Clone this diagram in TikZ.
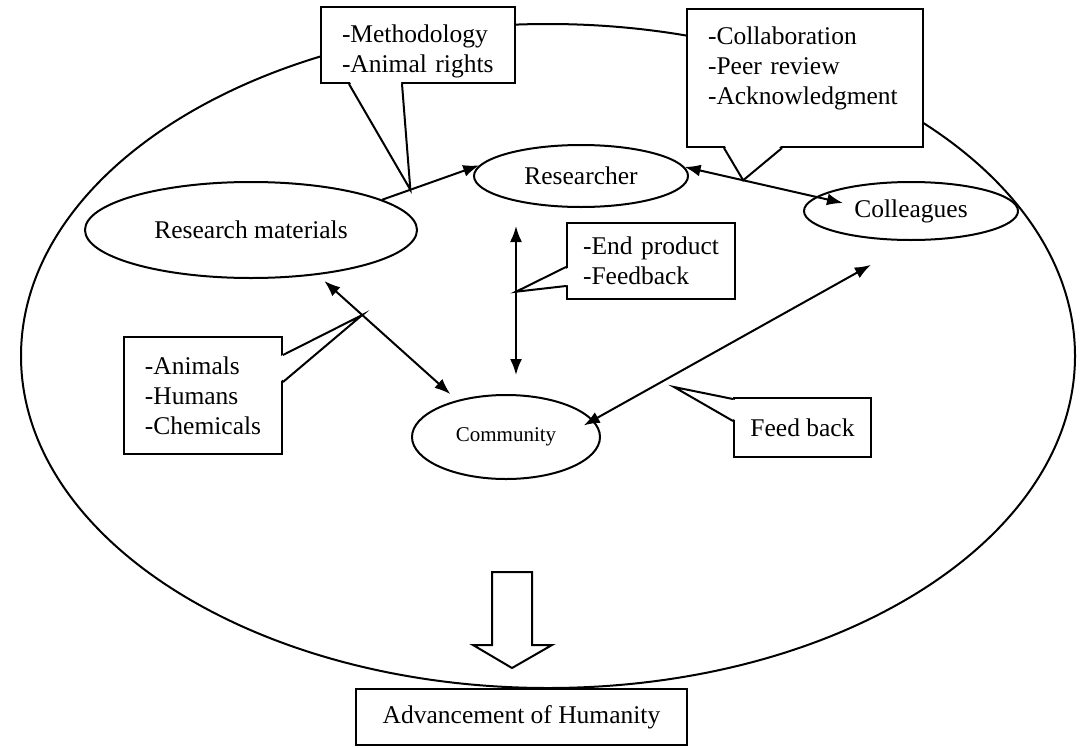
\documentclass[tikz,border=0pt]{standalone}
\usepackage{fontspec}
\setmainfont{Liberation Serif}
\usetikzlibrary{positioning,arrows.meta,shapes.geometric}
\tikzset{
  blob/.style={draw, ellipse, inner sep=0pt},
  note/.style={draw, fill=white, rectangle, align=left, inner ysep=0pt},
  dbl/.style={{Latex[length=16pt,width=12pt]}-{Latex[length=16pt,width=12pt]}},
  one/.style={-{Latex[length=16pt,width=12pt]}},
}

\begin{document}
\begin{tikzpicture}[x=1pt,y=-1pt,line width=2pt,font=\fontsize{25.5}{30}\selectfont]
\useasboundingbox (0,0) rectangle (1083,747);
% outer ring
\draw (548,356) ellipse [x radius=527, y radius=332];
% actors
\node[blob, minimum width=214pt, minimum height=62pt] (res) at (581,176) {Researcher};
\node[blob, minimum width=332pt, minimum height=96pt] (rm) at (251,230) {Research materials};
\node[blob, minimum width=214pt, minimum height=58pt] (col) at (911,211) {Colleagues};
\node[blob, minimum width=188pt, minimum height=84pt, font=\fontsize{21}{24}\selectfont] (com) at (506,437) {Community};
% notes
\node[note, minimum width=194pt, minimum height=76pt, inner xsep=21pt, text width=152pt, text depth=23pt] (meth) at (418,45) {-Methodology\\-Animal rights};
\node[note, minimum width=236pt, minimum height=138pt, inner xsep=21pt, text width=194pt, text depth=84pt] (coll) at (805,78) {-Collaboration\\-Peer review\\-Acknowledgment};
\node[note, minimum width=168pt, minimum height=76pt, inner xsep=16pt, text width=136pt] (ep) at (651,261) {-End product\\-Feedback};
\node[note, minimum width=137pt, minimum height=59pt, align=center] (fb) at (802.5,427.5) {Feed back};
\node[note, minimum width=158pt, minimum height=117pt] (an) at (203,395.5) {-Animals\\-Humans\\-Chemicals};
\node[note, minimum width=331pt, minimum height=56pt, align=center] (adv) at (521.5,717) {Advancement of Humanity};
% where the tails point
\path (rm.13) -- coordinate[pos=0.29] (mtip) (res.174);
\path (res.5) -- coordinate[pos=0.37] (ctip) ([xshift=-68pt,yshift=8pt]col.center);
\path ([xshift=10pt]com.north) coordinate (cn);
\path (cn |- res.south) -- coordinate[pos=0.45] (etip) (cn);
\path (rm.-34) -- coordinate[pos=0.32] (atip) (com.143);
\coordinate (ftip) at (674,387);
% tails
\fill[white] ([xshift=30pt,yshift=2pt]meth.south west) -- (mtip) -- ([xshift=81pt,yshift=2pt]meth.south west) -- cycle;
\draw ([xshift=29pt]meth.south west) -- (mtip) -- ([xshift=82pt]meth.south west);
\fill[white] ([xshift=39pt,yshift=2pt]coll.south west) -- (ctip) -- ([xshift=95pt,yshift=2pt]coll.south west) -- cycle;
\draw ([xshift=38pt]coll.south west) -- (ctip) -- ([xshift=96pt]coll.south west);
\fill[white] ([xshift=2pt,yshift=-46pt]ep.north west) -- (etip) -- ([xshift=2pt,yshift=-63pt]ep.north west) -- cycle;
\draw ([yshift=-45pt]ep.north west) -- (etip) -- ([yshift=-64pt]ep.north west);
\fill[white] ([xshift=2pt,yshift=-3pt]fb.north west) -- (ftip) -- ([xshift=2pt,yshift=-23pt]fb.north west) -- cycle;
\draw ([yshift=-2pt]fb.north west) -- (ftip) -- ([yshift=-24pt]fb.north west);
\fill[white] ([xshift=-2pt,yshift=-20pt]an.north east) -- (atip) -- ([xshift=-2pt,yshift=-45pt]an.north east) -- cycle;
\draw ([yshift=-19pt]an.north east) -- (atip) -- ([yshift=-46pt]an.north east);
% links
\draw[one] (rm.13) -- (res.174);
\draw[dbl] (res.5) -- ([xshift=-68pt,yshift=8pt]col.center);
\draw[dbl, shorten <=18pt, shorten >=19pt] (cn |- res.south) -- (cn);
\draw[dbl, shorten <=9pt, shorten >=9pt] (rm.-34) -- (com.143);
\draw[dbl, shorten <=-11pt, shorten >=49pt] (com.11) -- (col.-85);
% outcome
\draw[fill=white] (492,572) -- (532,572) -- (532,645) -- (552,645) -- (512,668) -- (473,645) -- (492,645) -- cycle;
\end{tikzpicture}
\end{document}
